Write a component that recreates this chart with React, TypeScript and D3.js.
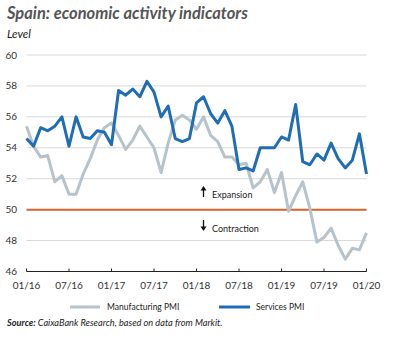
import React from "react";
import * as d3 from "d3";

const months = d3.range(49); // Jan 2016 .. Jan 2020, monthly index
const manufacturing = [
  55.4, 54.1, 53.4, 53.5, 51.8, 52.2, 51.0, 51.0, 52.3, 53.3, 54.5, 55.3,
  55.6, 54.8, 53.9, 54.5, 55.4, 54.7, 54.0, 52.4, 54.3, 55.8, 56.1, 55.8,
  55.2, 56.0, 54.8, 54.4, 53.4, 53.4, 52.9, 53.0, 51.4, 51.8, 52.6, 51.1,
  52.4, 49.9, 50.9, 51.8, 50.1, 47.9, 48.2, 48.8, 47.7, 46.8, 47.5, 47.4,
  48.5,
];
const services = [
  54.6, 54.1, 55.3, 55.1, 55.4, 56.0, 54.1, 56.0, 54.7, 54.6, 55.1, 55.0,
  54.2, 57.7, 57.4, 57.8, 57.3, 58.3, 57.6, 56.0, 56.7, 54.6, 54.4, 54.6,
  56.9, 57.3, 56.2, 55.6, 56.4, 55.4, 52.6, 52.7, 52.5, 54.0, 54.0, 54.0,
  54.7, 54.5, 56.8, 53.1, 52.9, 53.6, 53.2, 54.3, 53.3, 52.7, 53.2, 54.9,
  52.3,
];
const xTickIdx = [0, 6, 12, 18, 24, 30, 36, 42, 48];
const xTickLabels = ["01/16", "07/16", "01/17", "07/17", "01/18", "07/18", "01/19", "07/19", "01/20"];
const yTicks = [46, 48, 50, 52, 54, 56, 58, 60];

const FONT = "Lato, 'Open Sans', sans-serif";

export default function App() {
  const x = d3.scaleLinear().domain([0, 48]).range([26.5, 366.5]);
  const y = d3.scaleLinear().domain([46, 60]).range([271.5, 55]);
  const line = d3
    .line<number>()
    .x((_, i) => x(months[i]))
    .y((d) => y(d))
    .curve(d3.curveLinear);

  return (
    <div style={{ position: "absolute", left: 0, top: 0 }}>
      <svg width={394} height={338} style={{ display: "block", background: "#fff" }} fontFamily={FONT}>
        <text x={7} y={19} fontSize={16.5} fontWeight="bold" fontStyle="italic" fill="#555">
          Spain: economic activity indicators
        </text>
        <text x={7} y={38} fontSize={11.5} fontStyle="italic" fill="#222">
          Level
        </text>

        {yTicks.map((t) => (
          <g key={t}>
            {t !== 46 && t !== 50 && (
              <line x1={x(0)} x2={x(48)} y1={y(t)} y2={y(t)} stroke="#d9d9d9" strokeWidth={1} />
            )}
            <text x={17} y={y(t) + 3.5} fontSize={10} textAnchor="end" fill="#333">
              {t}
            </text>
          </g>
        ))}

        <line x1={x(0)} x2={x(48)} y1={y(50)} y2={y(50)} stroke="#d4622a" strokeWidth={2} />

        <line x1={x(0)} x2={x(48)} y1={y(46)} y2={y(46)} stroke="#222" strokeWidth={1} />
        {xTickIdx.map((m, i) => (
          <g key={m}>
            <line x1={x(m)} x2={x(m)} y1={y(46)} y2={y(46) - 3} stroke="#222" strokeWidth={1} />
            <text x={x(m)} y={289} fontSize={10} textAnchor="middle" fill="#333">
              {xTickLabels[i]}
            </text>
          </g>
        ))}

        <path d={line(manufacturing) || ""} fill="none" stroke="#b7c3cb" strokeWidth={3} strokeLinejoin="round" />
        <path d={line(services) || ""} fill="none" stroke="#1e6db5" strokeWidth={3} strokeLinejoin="round" />

        {/* Annotations */}
        <g fill="#111">
          <line x1={203.5} x2={203.5} y1={197} y2={189} stroke="#111" strokeWidth={1.3} />
          <path d="M200.5,190.5 L203.5,186 L206.5,190.5 Z" />
          <text x={212} y={198} fontSize={9} fill="#222">Expansion</text>
          <line x1={203.5} x2={203.5} y1={220} y2={228} stroke="#111" strokeWidth={1.3} />
          <path d="M200.5,226.5 L203.5,231 L206.5,226.5 Z" />
          <text x={212} y={232} fontSize={9} fill="#222">Contraction</text>
        </g>

        {/* Legend */}
        <line x1={70} x2={100} y1={307} y2={307} stroke="#b7c3cb" strokeWidth={3} />
        <text x={107} y={310} fontSize={8.5} fill="#222">Manufacturing PMI</text>
        <line x1={219} x2={250} y1={307} y2={307} stroke="#1e6db5" strokeWidth={3} />
        <text x={256} y={310} fontSize={8.5} fill="#222">Services PMI</text>

        <text x={7} y={326} fontSize={9.2} fontStyle="italic" fill="#222">
          <tspan fontWeight="bold">Source:</tspan> CaixaBank Research, based on data from Markit.
        </text>
      </svg>
    </div>
  );
}
